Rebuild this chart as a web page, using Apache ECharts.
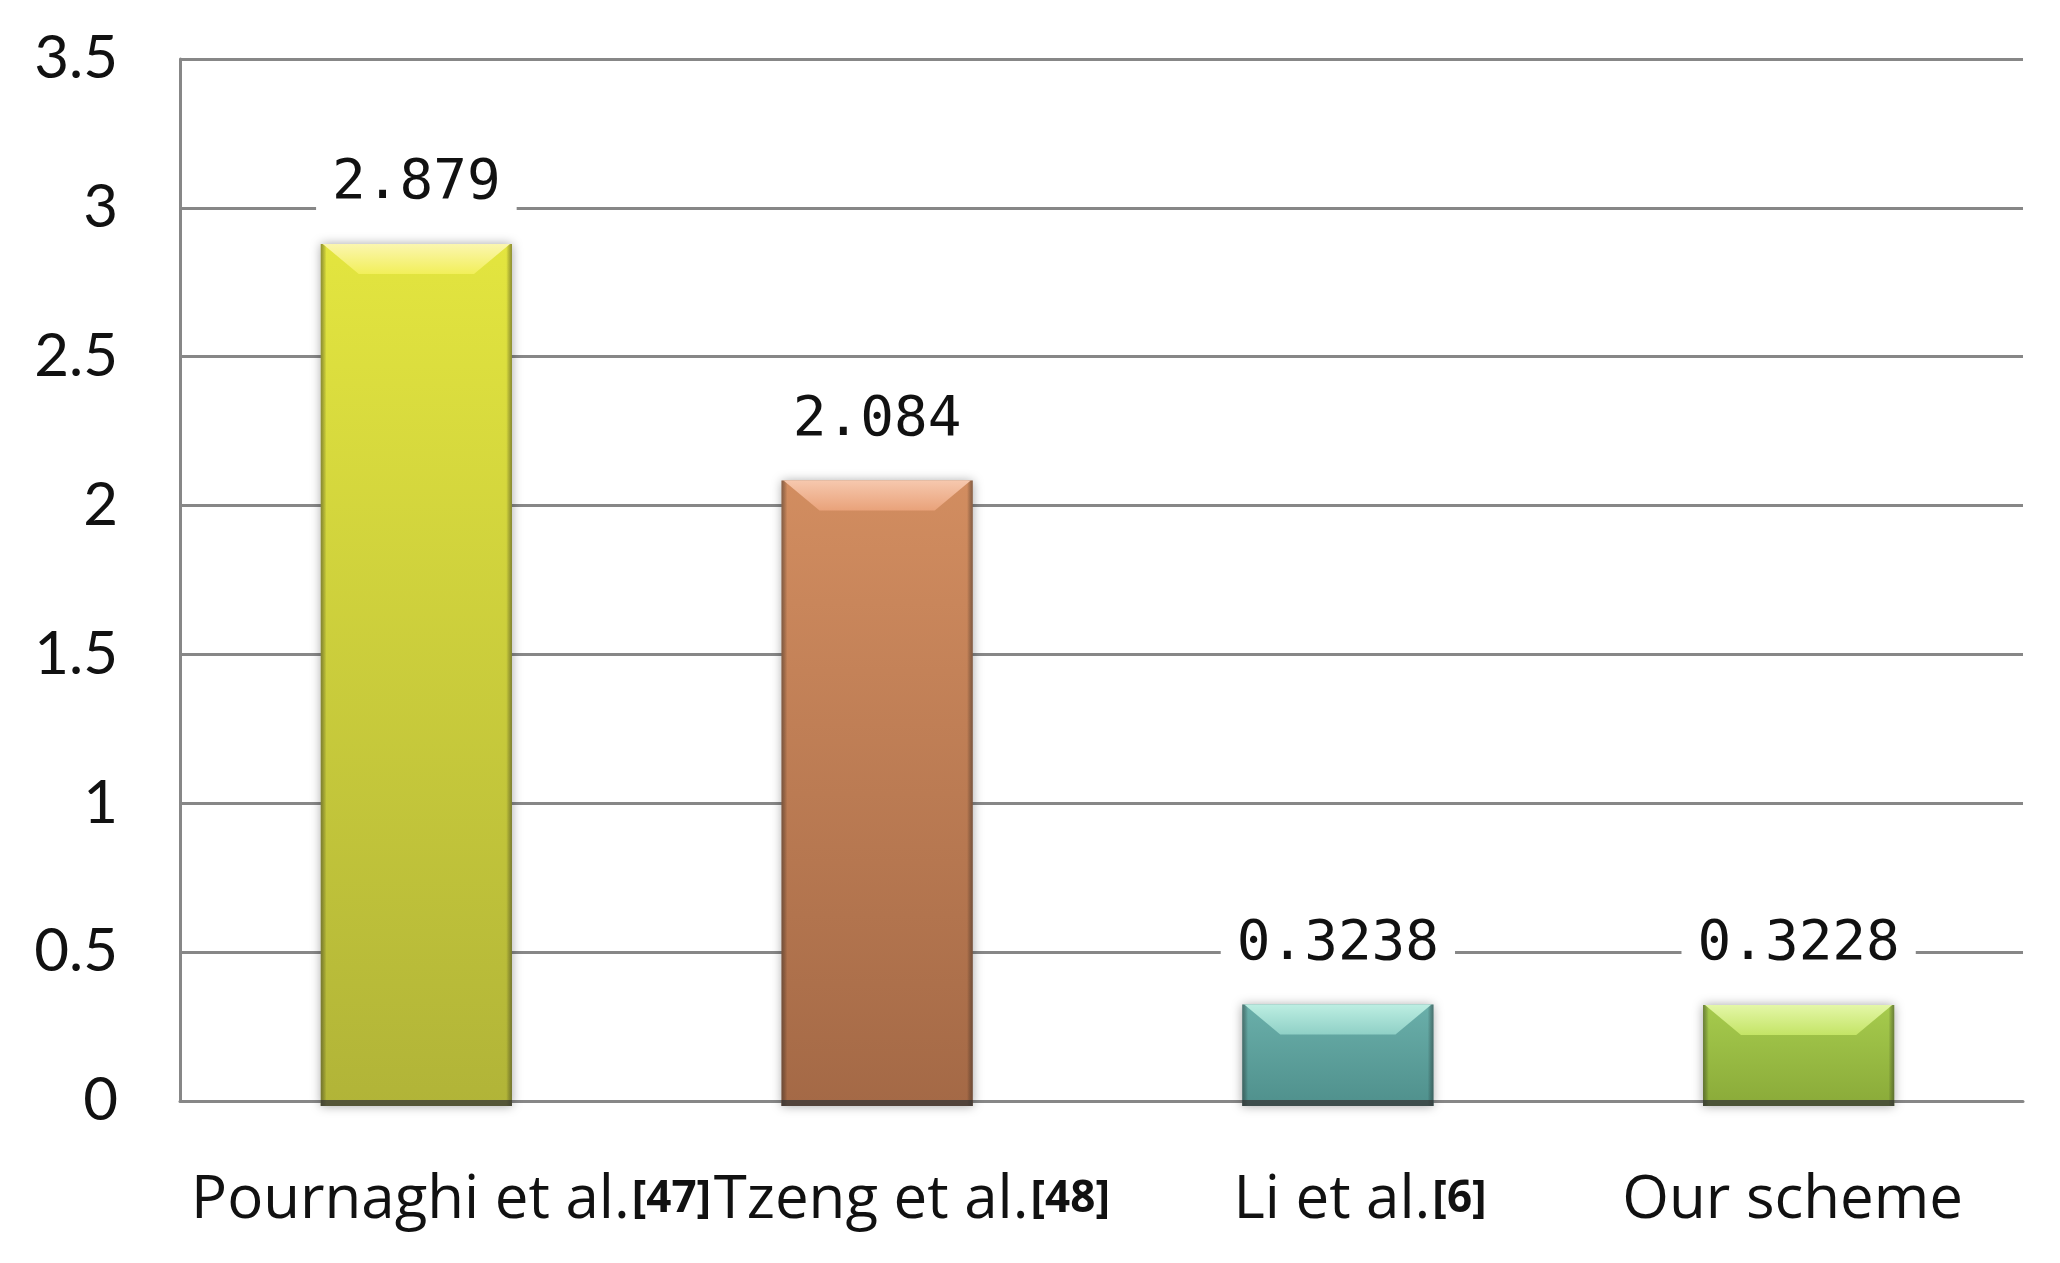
<!DOCTYPE html>
<html>
<head>
<meta charset="utf-8">
<script src="https://cdn.jsdelivr.net/npm/echarts@6/dist/echarts.min.js"></script>
<style>
  html, body { margin: 0; padding: 0; background: #fff; }
  #chart { width: 2060px; height: 1263px; }
</style>
</head>
<body>
<div id="chart"></div>
<script>
const categories = ["Pournaghi et al.", "Tzeng et al.", "Li et al.", "Our scheme"];
const refs = ["[47]", "[48]", "[6]", ""];
const values = [2.879, 2.084, 0.3238, 0.3228];
const valueLabels = ["2.879", "2.084", "0.3238", "0.3228"];
const yMin = 0;
const yMax = 3.5;
const yStep = 0.5;

// light top, dark bottom, bevel face, bevel rim
const barColors = [
  { light: "#e3e53f", dark: "#b1b438", bevel: "#f2ef5a", rim: "#fbf6b0" },
  { light: "#d28d60", dark: "#a46946", bevel: "#e9a27a", rim: "#f6c8ae" },
  { light: "#6aafaa", dark: "#4f908c", bevel: "#8fd0c6", rim: "#bdeee2" },
  { light: "#a6cb4d", dark: "#8aaa39", bevel: "#c4e466", rim: "#e4f7a8" },
];

const gridColor = "#878787";

const chart = echarts.init(document.getElementById("chart"));

function renderBar(params, api) {
  const i = api.value(0);
  const v = api.value(1);
  const top = api.coord([i, v]);
  const base = api.coord([i, 0]);
  const w = api.size([1, 0])[0] * 0.415;
  const cx = top[0] + 6;
  const x0 = cx - w / 2;
  const y0 = top[1];
  const h = base[1] - top[1];
  const c = barColors[i];
  const bx = 38, by = 30;
  return {
    type: "group",
    children: [
      {
        type: "rect",
        shape: { x: x0, y: y0, width: w, height: h + 5 },
        style: {
          fill: new echarts.graphic.LinearGradient(0, 0, 0, 1, [
            { offset: 0, color: c.light },
            { offset: 1, color: c.dark },
          ]),
          shadowBlur: 10,
          shadowColor: "rgba(0,0,0,0.35)",
        },
      },
      {
        type: "rect",
        shape: { x: x0, y: y0, width: w, height: h + 5 },
        style: {
          fill: new echarts.graphic.LinearGradient(0, 0, 1, 0, [
            { offset: 0, color: "rgba(40,40,40,0.45)" },
            { offset: 0.03, color: "rgba(0,0,0,0)" },
            { offset: 0.97, color: "rgba(0,0,0,0)" },
            { offset: 1, color: "rgba(40,40,40,0.45)" },
          ]),
        },
      },
      {
        type: "polygon",
        shape: { points: [[x0 + 2, y0], [x0 + w - 2, y0], [x0 + w - bx, y0 + by], [x0 + bx, y0 + by]] },
        style: {
          fill: new echarts.graphic.LinearGradient(0, 0, 0, 1, [
            { offset: 0, color: c.rim },
            { offset: 1, color: c.bevel },
          ]),
        },
      },
      {
        type: "rect",
        shape: { x: x0, y: base[1] - 1, width: w, height: 6 },
        style: { fill: "rgba(55,55,55,0.75)" },
      },
      {
        type: "text",
        style: {
          text: valueLabels[i],
          x: cx,
          y: y0 - 60,
          align: "center",
          verticalAlign: "middle",
          fontFamily: "DejaVu Sans Mono",
          fontSize: 56,
          fill: "#111",
          backgroundColor: "#fff",
          padding: [4, 16],
        },
      },
    ],
  };
}

const option = {
  backgroundColor: "#fff",
  animation: false,
  grid: {
    left: 180,
    right: 37,
    top: 59,
    bottom: 162,
    outerBoundsMode: "none",
  },
  xAxis: {
    type: "category",
    data: categories,
    axisLine: { show: true, lineStyle: { color: gridColor, width: 3 } },
    axisTick: { show: false },
    axisLabel: {
      interval: 0,
      hideOverlap: false,
      margin: 70,
      formatter(value, idx) {
        const r = refs[idx];
        return r ? `{s|${r}}{a|${value}}{b|${r}}` : `{a|${value}}`;
      },
      rich: {
        a: { fontFamily: "Open Sans", fontSize: 60, color: "#111", verticalAlign: "bottom" },
        b: { fontFamily: "Open Sans", fontWeight: "bold", fontSize: 44, color: "#111", verticalAlign: "bottom", padding: [0, 0, 10, 2] },
        s: { fontFamily: "Open Sans", fontWeight: "bold", fontSize: 44, color: "rgba(0,0,0,0)", verticalAlign: "bottom", padding: [0, 2, 10, 0] },
      },
    },
  },
  yAxis: {
    type: "value",
    min: yMin,
    max: yMax,
    interval: yStep,
    axisLine: { show: true, lineStyle: { color: gridColor, width: 3 } },
    axisTick: { show: false },
    splitLine: { lineStyle: { color: gridColor, width: 3 } },
    axisLabel: {
      margin: 62,
      fontFamily: "Lato",
      fontSize: 60,
      color: "#111",
    },
  },
  series: [
    {
      type: "custom",
      renderItem: renderBar,
      data: values.map((v, i) => [i, v]),
      encode: { x: 0, y: 1 },
      clip: false,
    },
  ],
};

chart.setOption(option);
</script>
</body>
</html>
